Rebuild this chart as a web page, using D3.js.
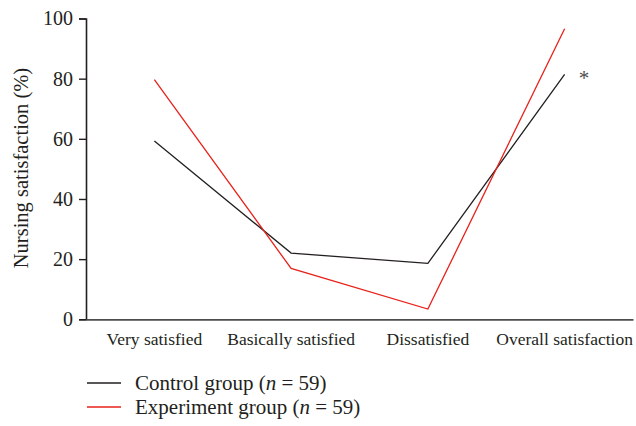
<!DOCTYPE html>
<html><head><meta charset="utf-8">
<script src="https://cdn.jsdelivr.net/npm/d3@7"></script>
<style>body{margin:0;background:#fff}svg{display:block}</style>
</head><body><svg id="c" width="636" height="426"></svg>
<script>
const categories = ["Very satisfied","Basically satisfied","Dissatisfied","Overall satisfaction"];
const controlValues = [59.3, 22.0, 18.6, 81.4];
const experimentValues = [79.7, 16.9, 3.4, 96.6];
const yTicks = [0,20,40,60,80,100];
const seriesNames = ["Control group", "Experiment group"];
const seriesColors = ["#231f20", "#e8221b"];

const FONT = "'Liberation Serif', 'Times New Roman', 'DejaVu Serif', serif";
const svg = d3.select("#c");
const L = 86, R = 633, T = 18.5, B = 319.3;
const x = d3.scaleBand().domain(categories).range([L, R]);
const y = d3.scaleLinear().domain([0,100]).range([B, T]);

const yAxis = svg.append("g").attr("transform",`translate(${L},0)`)
  .call(d3.axisLeft(y).tickValues(yTicks).tickSize(7).tickPadding(6));
yAxis.attr("font-family", FONT);
yAxis.select(".domain").attr("stroke","#231f20").attr("stroke-width",1.6);
yAxis.selectAll(".tick line").attr("stroke","#231f20").attr("stroke-width",1.4);
yAxis.selectAll("text").style("font-family",FONT).style("font-size","20px").attr("fill","#231f20");

const xAxis = svg.append("g").attr("transform",`translate(0,${B})`)
  .call(d3.axisBottom(x).tickSize(0).tickPadding(13));
xAxis.attr("font-family", FONT);
xAxis.select(".domain").attr("stroke","#4d4d4d").attr("stroke-width",1.8);
xAxis.selectAll("text").style("font-family",FONT).style("font-size","17.5px").attr("fill","#231f20");

svg.append("text").attr("transform","translate(28,168) rotate(-90)")
  .attr("text-anchor","middle").style("font-family",FONT).style("font-size","20.5px")
  .attr("fill","#231f20").text("Nursing satisfaction (%)");

const line = d3.line().x((d,i)=>x(categories[i])+x.bandwidth()/2).y(d=>y(d));
[controlValues, experimentValues].forEach((vals,k)=>{
  svg.append("path").datum(vals).attr("d",line).attr("fill","none")
    .attr("stroke",seriesColors[k]).attr("stroke-width",1.3);
});

svg.append("text").attr("x", x(categories[3])+x.bandwidth()/2+14).attr("y", y(controlValues[3])+11)
  .style("font-family",FONT).style("font-size","21px").attr("fill","#4d4d4d").text("*");

const leg = svg.append("g");
seriesNames.forEach((name,k)=>{
  const yy = 383 + k*24;
  leg.append("line").attr("x1",87).attr("x2",121).attr("y1",yy).attr("y2",yy)
    .attr("stroke",seriesColors[k]).attr("stroke-width",1.3);
  const t = leg.append("text").attr("x",135).attr("y",yy+7)
    .style("font-family",FONT).style("font-size","21px").attr("fill","#231f20");
  t.append("tspan").text(name+" (");
  t.append("tspan").style("font-style","italic").text("n");
  t.append("tspan").text(" = 59)");
});
</script></body></html>
